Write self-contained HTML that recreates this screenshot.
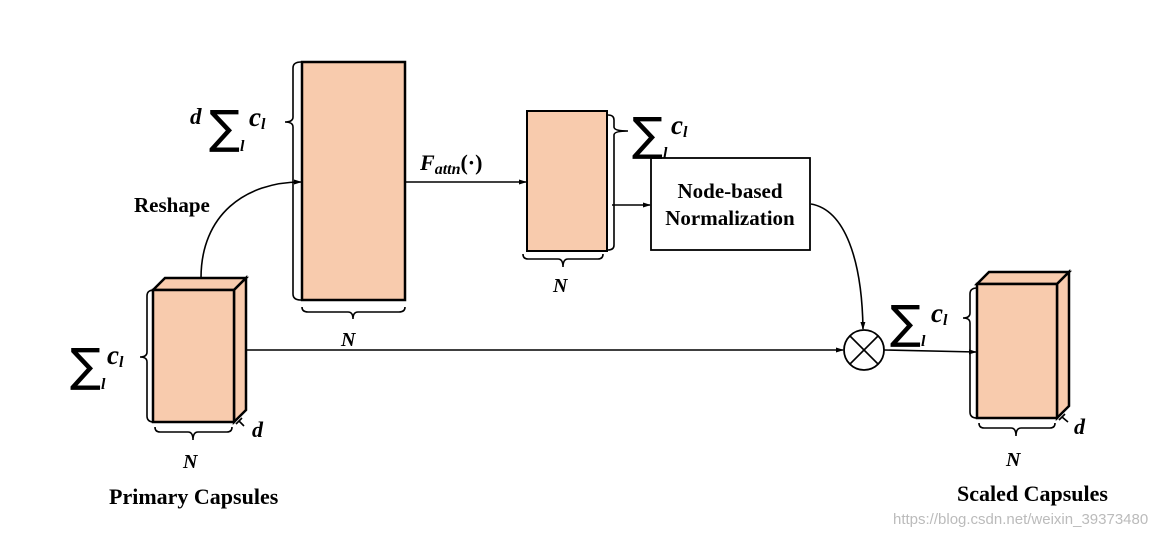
<!DOCTYPE html>
<html><head><meta charset="utf-8"><style>
html,body{margin:0;padding:0;background:#fff;}
svg{display:block}
.t{font-family:"Liberation Serif",serif;font-weight:bold;fill:#000}
.m{font-family:"Liberation Serif",serif;font-style:italic;font-weight:bold;fill:#000}
.s{font-family:"DejaVu Sans",sans-serif;fill:#000}
</style></head><body>
<svg width="1175" height="536" viewBox="0 0 1175 536" xmlns="http://www.w3.org/2000/svg">
<defs><marker id="a" markerWidth="8" markerHeight="8" refX="7" refY="4" orient="auto" markerUnits="userSpaceOnUse"><path d="M0,1.5 L8,4 L0,6.5 z" fill="#000"/></marker></defs>
<g stroke="#000" fill="none" stroke-width="1.6">
<polygon points="153,290 165,278 246,278 234,290" fill="#f8cbad" stroke-width="2.5"/>
<polygon points="234,290 246,278 246,410 234,422" fill="#f8cbad" stroke-width="2.5"/>
<rect x="153" y="290" width="81" height="132" fill="#f8cbad" stroke-width="2.5"/>
<rect x="302" y="62" width="103" height="238" fill="#f8cbad" stroke-width="2.5"/>
<rect x="527" y="111" width="80" height="140" fill="#f8cbad" stroke-width="2"/>
<rect x="651" y="158" width="159" height="92" fill="#fff" stroke-width="1.8"/>
<polygon points="977,284 989,272 1069,272 1057,284" fill="#f8cbad" stroke-width="2.5"/>
<polygon points="1057,284 1069,272 1069,406 1057,418" fill="#f8cbad" stroke-width="2.5"/>
<rect x="977" y="284" width="80" height="134" fill="#f8cbad" stroke-width="2.5"/>
<circle cx="864" cy="350" r="20" stroke-width="1.8"/>
<line x1="850" y1="336" x2="878" y2="364"/><line x1="878" y1="336" x2="850" y2="364"/>
<path d="M154,290 Q147,290 147,296 L147,352 Q147,357 140,357 Q147,357 147,362 L147,416 Q147,422 154,422"/>
<path d="M301,62 Q293,62 293,68 L293,117 Q293,122 285,122 Q293,122 293,127 L293,294 Q293,300 301,300"/>
<path d="M302,307 Q302,312 308,312 L348,312 Q353,312 353,319 Q353,312 358,312 L399,312 Q405,312 405,307"/>
<path d="M523,254 Q523,259 528,259 L558,259 Q563,259 563,267 Q563,259 568,259 L598,259 Q603,259 603,254"/>
<path d="M608,115 Q614,115 614,120 L614,127 Q614,131 628,131 Q614,131 614,135 L614,245 Q614,250 608,250"/>
<path d="M155,427 Q155,432 160,432 L188,432 Q193,432 193,440 Q193,432 198,432 L227,432 Q232,432 232,427"/>
<path d="M236,424 L242,418 M239,421 L244,426"/>
<path d="M977,288 Q970,288 970,294 L970,313 Q970,318 963,318 Q970,318 970,323 L970,412 Q970,418 977,418"/>
<path d="M979,423 Q979,428 984,428 L1011,428 Q1016,428 1016,436 Q1016,428 1021,428 L1050,428 Q1055,428 1055,423"/>
<path d="M1059,420 L1065,414 M1062,417 L1068,422"/>
<path d="M201,278 C201,215 245,182 301,182" marker-end="url(#a)"/>
<line x1="405" y1="182" x2="526" y2="182" marker-end="url(#a)"/>
<line x1="612" y1="205" x2="650" y2="205" marker-end="url(#a)"/>
<path d="M811,204 C845,210 862,260 863,329" marker-end="url(#a)"/>
<line x1="246" y1="350" x2="843" y2="350" marker-end="url(#a)"/>
<line x1="884" y1="350" x2="976" y2="352" marker-end="url(#a)"/>
</g>
<text class="t" x="134" y="212" font-size="21">Reshape</text>
<text class="t" x="730" y="198" font-size="21" text-anchor="middle">Node-based</text>
<text class="t" x="730" y="225" font-size="21" text-anchor="middle">Normalization</text>
<text class="t" x="109" y="504" font-size="22">Primary Capsules</text>
<text class="t" x="957" y="501" font-size="22">Scaled Capsules</text>
<text x="893" y="524" font-family="Liberation Sans,sans-serif" font-size="15" fill="#bbb">https://blog.csdn.net/weixin_39373480</text>
<text class="m" x="420" y="170" font-size="22">F<tspan font-size="16" dy="4">attn</tspan><tspan dy="-4" font-style="normal">(·)</tspan></text>
<text class="m" x="341" y="346" font-size="20">N</text>
<text class="m" x="553" y="292" font-size="20">N</text>
<text class="m" x="183" y="468" font-size="20">N</text>
<text class="m" x="1006" y="466" font-size="20">N</text>
<text class="m" x="252" y="437" font-size="22">d</text>
<text class="m" x="1074" y="434" font-size="22">d</text>
<text class="s" x="70" y="381" font-size="46">∑</text><text class="m" x="101" y="389" font-size="16">l</text><text class="m" x="107" y="364" font-size="27">c<tspan font-size="16" dy="3">l</tspan></text>
<text class="m" x="190" y="124" font-size="23">d</text>
<text class="s" x="209" y="143" font-size="46">∑</text><text class="m" x="240" y="151" font-size="16">l</text><text class="m" x="249" y="126" font-size="27">c<tspan font-size="16" dy="3">l</tspan></text>
<text class="s" x="632" y="150" font-size="46">∑</text><text class="m" x="663" y="158" font-size="16">l</text><text class="m" x="671" y="134" font-size="27">c<tspan font-size="16" dy="3">l</tspan></text>
<text class="s" x="890" y="338" font-size="46">∑</text><text class="m" x="921" y="346" font-size="16">l</text><text class="m" x="931" y="322" font-size="27">c<tspan font-size="16" dy="3">l</tspan></text>
</svg>
</body></html>
